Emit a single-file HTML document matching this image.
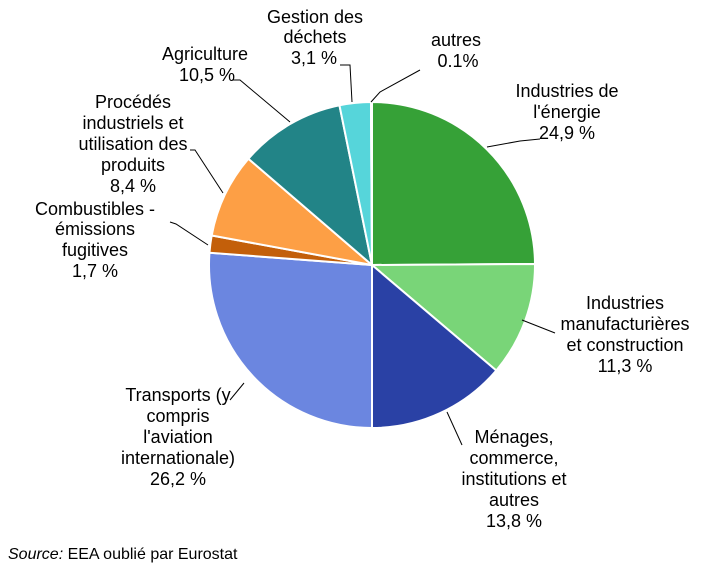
<!DOCTYPE html>
<html><head><meta charset="utf-8"><style>
body{margin:0;background:#fff;width:706px;height:578px;overflow:hidden}
svg text{font-family:"Liberation Sans",sans-serif;font-size:18px;fill:#000}
</style></head><body>
<svg id="s" width="706" height="578" xmlns="http://www.w3.org/2000/svg">
<g id="pie"></g>
<g stroke="#000" stroke-width="1" fill="none">
<polyline points="371,102 380,92 420,70"/>
<polyline points="352,102 350,65 340,65"/>
<polyline points="290,122 240,80 232,80"/>
<polyline points="223,193 195,150 190,150"/>
<polyline points="208,245 176,224 170,222"/>
<polyline points="487,147 520,141 540,139"/>
<polyline points="522,320 555,333"/>
<polyline points="447,412 462,445"/>
<polyline points="244,383 230,400"/>
</g>
<g text-anchor="middle">
<text x="315" y="23">Gestion des</text><text x="315" y="43">déchets</text><text x="314" y="64">3,1 %</text>
<text x="456" y="46">autres</text><text x="458" y="67">0.1%</text>
<text x="205" y="60">Agriculture</text><text x="207" y="81">10,5 %</text>
<text x="133" y="108">Procédés</text><text x="133" y="129">industriels et</text><text x="133" y="150">utilisation des</text><text x="133" y="171">produits</text><text x="133" y="192">8,4 %</text>
<text x="95" y="215">Combustibles -</text><text x="95" y="235">émissions</text><text x="95" y="256">fugitives</text><text x="95" y="277">1,7 %</text>
<text x="567" y="97">Industries de</text><text x="567" y="118">l'énergie</text><text x="567" y="139">24,9 %</text>
<text x="625" y="309">Industries</text><text x="625" y="330">manufacturières</text><text x="625" y="351">et construction</text><text x="625" y="372">11,3 %</text>
<text x="514" y="443">Ménages,</text><text x="514" y="464">commerce,</text><text x="514" y="485">institutions et</text><text x="514" y="506">autres</text><text x="514" y="527">13,8 %</text>
<text x="178" y="401">Transports (y</text><text x="178" y="422">compris</text><text x="178" y="443">l'aviation</text><text x="178" y="464">internationale)</text><text x="178" y="485">26,2 %</text>
</g>
<text x="8" y="559" style="font-size:16px"><tspan font-style="italic">Source:</tspan> EEA oublié par Eurostat</text>
</svg>
<script>
var d=[[24.9,"#36a137"],[11.3,"#79d578"],[13.8,"#2a41a5"],[26.2,"#6b86e0"],[1.7,"#c35f0a"],[8.4,"#fd9f45"],[10.5,"#228487"],[3.1,"#56d5da"],[0.1,"#aaaaaa"]];
var cx=372,cy=265,r=163,a=0,g=document.getElementById("pie"),h="";
d.forEach(function(s){var a0=a/100*2*Math.PI,a1=(a+s[0])/100*2*Math.PI;a+=s[0];
var x0=cx+r*Math.sin(a0),y0=cy-r*Math.cos(a0),x1=cx+r*Math.sin(a1),y1=cy-r*Math.cos(a1);
h+='<path d="M'+cx+','+cy+'L'+x0+','+y0+'A'+r+','+r+' 0 '+(s[0]>50?1:0)+' 1 '+x1+','+y1+'Z" fill="'+s[1]+'" stroke="#fff" stroke-width="2"/>';});
g.innerHTML=h;
</script>
</body></html>
